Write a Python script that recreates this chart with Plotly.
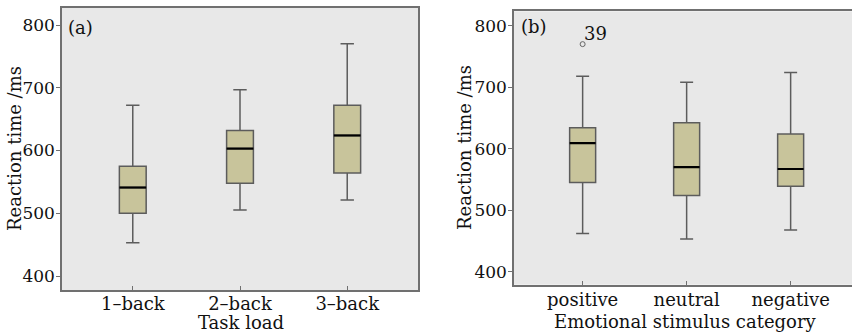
import plotly.graph_objects as go

# ---- data ----
load_cats = ["1–back", "2–back", "3–back"]
load_lower = [453, 505, 521]
load_q1 = [500, 548, 564]
load_median = [541, 603, 624]
load_q3 = [575, 632, 672]
load_upper = [672, 697, 770]

emo_cats = ["positive", "neutral", "negative"]
emo_lower = [462, 453, 468]
emo_q1 = [545, 524, 539]
emo_median = [609, 570, 567]
emo_q3 = [634, 642, 624]
emo_upper = [718, 708, 724]

outlier_cat_index = [0]
outlier_value = [770]
outlier_label = ["39"]

y_ticks = [400, 500, 600, 700, 800]

# ---- style ----
FONT = "DejaVu Serif"
BOX_FILL = "#C8C49B"
BOX_LINE = "#5c5c5c"
BG = "#E8E8E8"
FRAME = "#707070"
BOX_W = 0.25

fig = go.Figure()

def add_panel(cats, lo, q1, med, q3, up, xa, ya):
    for i, c in enumerate(cats):
        fig.add_trace(go.Box(
            x=[i], q1=[q1[i]], median=[med[i]], q3=[q3[i]],
            lowerfence=[lo[i]], upperfence=[up[i]],
            width=BOX_W, whiskerwidth=0.5,
            fillcolor=BOX_FILL, line=dict(color=BOX_LINE, width=1.5),
            boxpoints=False, showlegend=False, hoverinfo="skip",
            xaxis=xa, yaxis=ya))
        fig.add_trace(go.Scatter(
            x=[i - BOX_W / 2, i + BOX_W / 2], y=[med[i], med[i]],
            mode="lines", line=dict(color="black", width=2.2),
            showlegend=False, hoverinfo="skip", xaxis=xa, yaxis=ya))

add_panel(load_cats, load_lower, load_q1, load_median, load_q3, load_upper, "x", "y")
add_panel(emo_cats, emo_lower, emo_q1, emo_median, emo_q3, emo_upper, "x2", "y2")

fig.add_trace(go.Scatter(
    x=outlier_cat_index, y=outlier_value, mode="markers",
    marker=dict(symbol="circle-open", size=5, color="#666666", line=dict(width=1)),
    showlegend=False, hoverinfo="skip", xaxis="x2", yaxis="y2"))

W, H = 852, 332
def px_x(p):
    return p / W
def px_y(p):
    return 1 - p / H

axis_common = dict(showline=True, linecolor=FRAME, linewidth=1.5, mirror=True,
                   showgrid=False, zeroline=False)
xfont = dict(family=FONT, size=18, color="#111111")
yfont = dict(family=FONT, size=17, color="#111111")

fig.update_layout(
    width=W, height=H,
    margin=dict(l=0, r=0, t=0, b=0),
    paper_bgcolor="white", plot_bgcolor=BG,
    font=dict(family=FONT, size=18, color="#111111"),
    xaxis=dict(domain=[px_x(62), px_x(418)], range=[-0.66, 2.66],
               tickvals=[0, 1, 2], ticktext=load_cats, tickfont=xfont,
               ticks="inside", ticklen=4, tickcolor=FRAME, anchor="y",
               ticklabelstandoff=-3, automargin=False, **axis_common),
    yaxis=dict(domain=[px_y(290), px_y(8)], range=[377.7, 827.1],
               tickvals=y_ticks, tickfont=yfont, ticks="outside", ticklen=4,
               tickcolor=FRAME, ticklabelstandoff=-2,
               anchor="x", automargin=False, **axis_common),
    xaxis2=dict(domain=[px_x(514), 1.0], range=[-0.66, 2.59],
                tickvals=[0, 1, 2], ticktext=emo_cats, tickfont=xfont,
                ticks="inside", ticklen=4, tickcolor=FRAME, anchor="y2",
                ticklabelstandoff=-2, automargin=False, **axis_common),
    yaxis2=dict(domain=[px_y(284.7), px_y(11.3)], range=[378.9, 823.4],
                tickvals=y_ticks, tickfont=yfont, ticks="outside", ticklen=4,
                tickcolor=FRAME, ticklabelstandoff=-2,
                anchor="x2", automargin=False, **axis_common),
)

annots = [
    dict(text="(a)", xref="x domain", yref="y domain", x=0.01, y=0.93,
         xanchor="left", yanchor="middle", showarrow=False),
    dict(text="(b)", xref="x2 domain", yref="y2 domain", x=0.015, y=0.945,
         xanchor="left", yanchor="middle", showarrow=False),
    dict(text="Reaction time /ms", xref="paper", yref="paper",
         x=px_x(14), y=px_y(149), textangle=-90, showarrow=False,
         xanchor="center", yanchor="middle"),
    dict(text="Reaction time /ms", xref="paper", yref="paper",
         x=px_x(464), y=px_y(148), textangle=-90, showarrow=False,
         xanchor="center", yanchor="middle"),
    dict(text="Task load", xref="paper", yref="paper",
         x=px_x(241), y=px_y(322), showarrow=False,
         xanchor="center", yanchor="middle"),
    dict(text="Emotional stimulus category", xref="paper", yref="paper",
         x=px_x(685), y=px_y(321), showarrow=False,
         xanchor="center", yanchor="middle"),
]
for i, v, lab in zip(outlier_cat_index, outlier_value, outlier_label):
    annots.append(dict(text=lab, xref="x2", yref="y2", x=i, y=v,
                       xanchor="left", yanchor="bottom", xshift=-1, yshift=-2,
                       showarrow=False))
fig.update_layout(annotations=annots)

fig.write_html(
    "out.html",
    config={"displayModeBar": False},
    post_script="document.body.style.margin='0';document.body.style.overflow='hidden';",
)
